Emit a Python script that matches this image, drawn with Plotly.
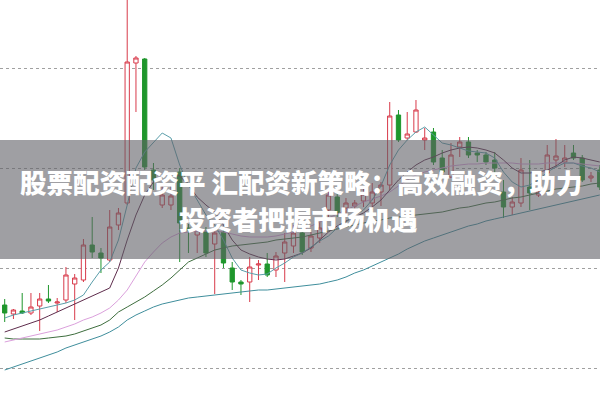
import plotly.graph_objects as go

idx = list(range(69))

open_ = [10.63,10.54,10.57,10.55,10.62,10.69,10.65,10.68,10.84,10.88,11.23,11.15,11.08,11.43,11.65,13.05,13.09,11.98,11.63,11.63,
         11.96,11.40,11.33,11.36,11.24,11.36,11.00,10.86,10.86,11.03,11.04,10.98,11.15,11.22,11.35,11.20,11.30,11.58,11.71,11.60,
         11.62,11.67,11.65,11.76,11.83,12.53,12.30,12.36,12.28,12.36,12.10,11.91,12.21,12.26,12.15,12.13,12.08,11.76,11.61,11.65,
         11.81,11.73,11.95,12.08,12.06,12.15,12.10,11.90,11.98]
high = [10.69,10.59,10.75,10.75,10.75,10.83,10.70,11.01,10.94,11.29,11.51,11.20,11.58,11.60,13.73,13.12,13.10,12.05,11.85,11.85,
        12.00,11.44,11.43,11.41,11.40,11.40,11.06,10.88,11.11,11.08,11.15,11.16,11.35,11.43,11.43,11.36,11.46,11.77,11.76,11.70,
        11.68,11.79,11.85,11.86,12.66,12.58,12.56,12.68,12.40,12.40,12.18,12.25,12.31,12.31,12.18,12.16,12.16,11.88,11.71,12.10,
        12.08,11.81,12.23,12.29,12.23,12.23,12.13,11.96,12.03]
low = [10.46,10.49,10.54,10.53,10.37,10.65,10.56,10.65,10.48,10.86,11.10,10.95,11.06,11.38,11.63,12.56,11.98,11.78,11.60,11.58,
       11.06,11.15,11.15,11.11,10.74,11.00,10.78,10.73,10.66,10.88,10.91,10.91,10.86,11.15,11.13,11.16,11.25,11.51,11.51,11.53,
       11.55,11.61,11.58,11.62,11.78,12.26,12.28,12.35,12.18,12.03,11.93,11.90,12.11,12.10,12.06,12.03,11.93,11.50,11.53,11.61,
       11.58,11.71,11.93,12.00,12.01,12.08,11.86,11.86,11.78]
close = [10.55,10.58,10.55,10.61,10.69,10.67,10.66,10.93,10.90,11.23,11.16,11.10,11.41,11.55,13.06,13.10,12.01,11.88,11.73,11.72,
         11.45,11.38,11.38,11.15,11.35,11.05,10.86,10.84,11.01,11.04,10.93,11.12,11.26,11.35,11.16,11.32,11.40,11.73,11.55,11.65,
         11.65,11.74,11.76,11.83,12.52,12.28,12.34,12.58,12.30,12.06,11.96,12.13,12.26,12.13,12.13,12.06,12.00,11.61,11.66,11.98,
         11.75,11.76,12.13,12.12,12.10,12.10,11.88,11.92,11.81]

ma5 = [10.50,10.53,10.55,10.57,10.59,10.61,10.63,10.65,10.68,10.73,10.86,10.98,11.06,11.28,11.63,12.00,12.16,12.26,12.35,12.30,
       12.03,11.83,11.68,11.53,11.43,11.28,11.10,10.98,10.95,10.93,10.94,11.00,11.05,11.11,11.15,11.21,11.27,11.32,11.40,11.46,
       11.53,11.58,11.68,11.82,12.03,12.18,12.28,12.36,12.41,12.33,12.25,12.23,12.20,12.17,12.16,12.15,12.10,11.96,11.86,11.81,
       11.83,11.88,11.96,12.01,12.05,12.05,12.02,12.00,11.96]
ma10 = [10.36,10.39,10.42,10.45,10.48,10.52,10.56,10.60,10.64,10.68,10.72,10.76,10.80,11.00,11.28,11.53,11.73,11.86,11.93,11.95,
        11.92,11.83,11.71,11.63,11.56,11.43,11.28,11.18,11.14,11.11,11.09,11.08,11.09,11.12,11.15,11.20,11.28,11.36,11.42,11.47,
        11.51,11.55,11.61,11.68,11.78,11.88,11.96,12.03,12.08,12.11,12.15,12.18,12.20,12.21,12.20,12.18,12.15,12.08,12.00,11.95,
        11.95,11.96,11.98,12.02,12.08,12.11,12.10,12.08,12.06]
ma20 = [10.26,10.28,10.30,10.32,10.34,10.36,10.38,10.41,10.44,10.48,10.51,10.55,10.60,10.68,10.78,10.92,11.06,11.16,11.25,11.31,
        11.35,11.36,11.37,11.37,11.37,11.36,11.34,11.32,11.31,11.31,11.31,11.32,11.34,11.36,11.38,11.42,11.46,11.50,11.54,11.58,
        11.62,11.66,11.69,11.72,11.76,11.82,11.88,11.93,11.96,11.98,12.00,12.02,12.03,12.04,12.04,12.05,12.05,12.05,12.05,12.04,
        12.04,12.04,12.05,12.05,12.05,12.05,12.04,12.03,12.02]
ma30 = [10.30,10.29,10.29,10.29,10.29,10.30,10.31,10.32,10.34,10.37,10.40,10.43,10.48,10.56,10.61,10.66,10.71,10.77,10.83,10.90,
        10.98,11.06,11.10,11.14,11.18,11.20,11.22,11.23,11.24,11.25,11.26,11.28,11.29,11.30,11.31,11.33,11.35,11.37,11.39,11.41,
        11.43,11.45,11.47,11.48,11.50,11.51,11.52,11.53,11.54,11.55,11.56,11.58,11.60,11.61,11.63,11.65,11.66,11.68,11.70,11.71,
        11.73,11.75,11.77,11.79,11.80,11.81,11.82,11.84,11.85]
ma60 = [9.98,10.01,10.04,10.07,10.10,10.13,10.16,10.20,10.23,10.26,10.29,10.32,10.36,10.41,10.48,10.53,10.57,10.61,10.64,10.66,
        10.68,10.70,10.71,10.72,10.73,10.74,10.75,10.76,10.77,10.78,10.78,10.79,10.80,10.81,10.82,10.83,10.84,10.86,10.88,10.91,
        10.95,10.98,11.02,11.06,11.10,11.14,11.19,11.23,11.27,11.30,11.33,11.36,11.39,11.42,11.44,11.47,11.49,11.51,11.53,11.55,
        11.57,11.59,11.61,11.63,11.65,11.67,11.69,11.71,11.73]

grid_levels = [10, 11, 12, 13]
title_line1 = "股票配资配资平 汇配资新策略：高效融资，助力"
title_line2 = "投资者把握市场机遇"

RED = "#d83a4a"
GREEN = "#1f962c"

fig = go.Figure()
fig.add_trace(go.Candlestick(
    x=idx, open=open_, high=high, low=low, close=close,
    increasing=dict(line=dict(color=RED, width=1), fillcolor="white"),
    decreasing=dict(line=dict(color=GREEN, width=1), fillcolor=GREEN),
    whiskerwidth=0, showlegend=False, hoverinfo="skip",
))

ma_styles = [
    (ma60, "#3f8e9c"),
    (ma30, "#3e6e3e"),
    (ma20, "#dba0dc"),
    (ma10, "#5e2c4c"),
    (ma5, "#5a9eaa"),
]
for vals, col in ma_styles:
    fig.add_trace(go.Scatter(x=idx, y=vals, mode="lines",
                             line=dict(color=col, width=1),
                             showlegend=False, hoverinfo="skip"))

fig.add_shape(type="rect", xref="paper", yref="paper",
              x0=0, x1=1, y0=1 - 259 / 401, y1=1 - 140 / 401,
              fillcolor="rgba(95,95,102,0.6)", line=dict(width=0), layer="above")

font = dict(family="Noto Sans CJK SC", size=26.5, color="white", weight=900)
fig.add_annotation(text=title_line1, xref="paper", yref="paper", x=0.502, y=1 - 181 / 401,
                   xanchor="center", yanchor="middle", showarrow=False, font=font)
fig.add_annotation(text=title_line2, xref="paper", yref="paper", x=0.498, y=1 - 219 / 401,
                   xanchor="center", yanchor="middle", showarrow=False, font=font)

fig.update_layout(
    width=600, height=401,
    margin=dict(l=0, r=0, t=0, b=0),
    paper_bgcolor="white", plot_bgcolor="white",
    boxgap=0.3,
    xaxis=dict(range=[-0.537, 68.03], showgrid=False, zeroline=False,
               showticklabels=False, rangeslider=dict(visible=False), fixedrange=True),
    yaxis=dict(range=[9.67, 13.68], tickvals=grid_levels, showgrid=True,
               gridcolor="#a0a0a0", griddash="dot", gridwidth=1,
               zeroline=False, showticklabels=False, fixedrange=True),
)

fig.write_html("out.html", config={"displayModeBar": False},
               post_script="document.body.style.margin='0';document.body.style.overflow='hidden';")
